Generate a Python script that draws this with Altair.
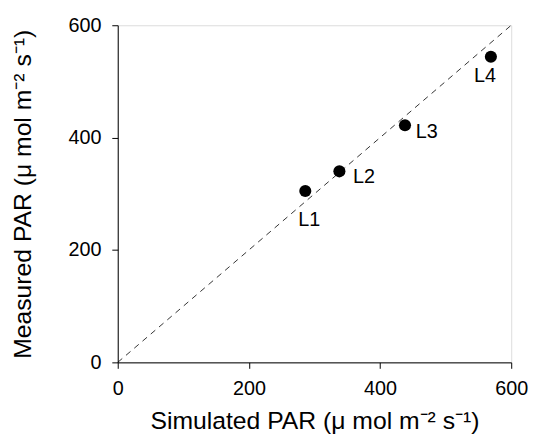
import altair as alt
import pandas as pd

labels = ["L1", "L2", "L3", "L4"]
simulated = [286, 338, 438, 569]
measured = [305, 340, 422, 544]
label_dx = [4, 25, 22, -6]
label_dy = [29, 6, 7, 20]
line_x = [0, 600]
line_y = [0, 600]

df = pd.DataFrame({"label": labels, "sim": simulated, "meas": measured,
                   "dx": label_dx, "dy": label_dy})
line_df = pd.DataFrame({"x": line_x, "y": line_y})

font = "Liberation Sans"
xscale = alt.Scale(domain=[0, 600], nice=False)
yscale = alt.Scale(domain=[0, 600], nice=False)

xaxis = alt.Axis(values=[0, 200, 400, 600], grid=False, domain=True, domainColor="black",
                 tickColor="black", tickSize=6, labelFontSize=20, labelFont=font,
                 labelColor="black", labelPadding=10, titleFontSize=25, titleFont=font,
                 titleFontWeight="normal", titleColor="black", titlePadding=11,
                 title="Simulated PAR (μ mol m⁻² s⁻¹)", labelFlush=False)
yaxis = alt.Axis(values=[0, 200, 400, 600], grid=False, domain=True, domainColor="black",
                 tickColor="black", tickSize=6, labelFontSize=20, labelFont=font,
                 labelColor="black", labelPadding=11, titleFontSize=25, titleFont=font,
                 titleFontWeight="normal", titleColor="black", titlePadding=33,
                 title="Measured PAR (μ mol m⁻² s⁻¹)", labelFlush=False)

line = alt.Chart(line_df).mark_line(color="black", strokeDash=[6, 5], strokeWidth=0.8).encode(
    x=alt.X("x:Q", scale=xscale, axis=xaxis),
    y=alt.Y("y:Q", scale=yscale, axis=yaxis),
)

points = alt.Chart(df).mark_circle(size=150, color="black", opacity=1).encode(
    x=alt.X("sim:Q", scale=xscale),
    y=alt.Y("meas:Q", scale=yscale),
)

texts = [
    alt.Chart(df.iloc[[i]]).mark_text(fontSize=20, font=font, color="black",
                                      dx=label_dx[i], dy=label_dy[i]).encode(
        x=alt.X("sim:Q", scale=xscale),
        y=alt.Y("meas:Q", scale=yscale),
        text="label:N",
    )
    for i in range(len(labels))
]

chart = alt.layer(line, points, *texts).properties(
    width=398, height=341,
    autosize=alt.AutoSizeParams(type="none"),
    padding={"left": 111, "top": 15, "right": 19, "bottom": 70},
).configure_view(stroke="black", strokeWidth=1).configure(background="white")

chart.save("out.html", embed_options={"renderer": "svg", "actions": False})
